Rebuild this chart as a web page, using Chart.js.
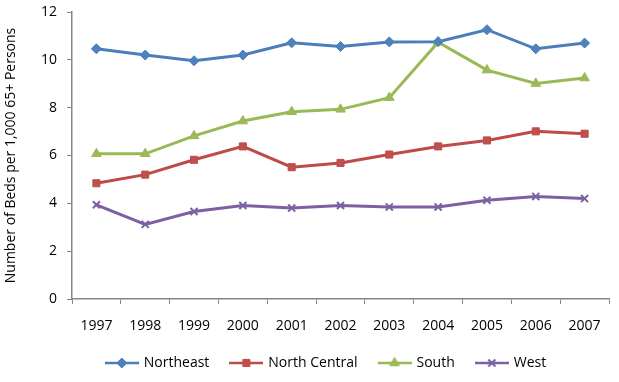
<!DOCTYPE html>
<html>
<head>
<meta charset="utf-8">
<script src="https://cdn.jsdelivr.net/npm/chart.js@4/dist/chart.umd.min.js"></script>
<style>
html,body{margin:0;padding:0;background:#fff;}
#wrap{width:619px;height:382px;position:relative;}
</style>
</head>
<body>
<div id="wrap"><canvas id="c" width="619" height="382"></canvas></div>
<script>
const years = ["1997","1998","1999","2000","2001","2002","2003","2004","2005","2006","2007"];
const northeast = [10.46, 10.2, 9.96, 10.2, 10.71, 10.56, 10.75, 10.76, 11.26, 10.46, 10.7];
const northCentral = [4.84, 5.2, 5.82, 6.38, 5.51, 5.69, 6.04, 6.38, 6.63, 7.01, 6.91];
const south = [6.07, 6.07, 6.82, 7.44, 7.83, 7.93, 8.42, 10.74, 9.57, 9.01, 9.24];
const west = [3.94, 3.12, 3.66, 3.91, 3.8, 3.91, 3.85, 3.85, 4.13, 4.29, 4.2];
const yTicks = [0, 2, 4, 6, 8, 10, 12];
const yTitle = "Number of Beds per 1,000 65+ Persons";

const FONT = "'Open Sans', 'Liberation Sans', sans-serif";

const seriesDefs = [
  {label: "Northeast", data: northeast, line: "#4A7EBB", fill: "#4F81BD", style: "rectRot", r: 5},
  {label: "North Central", data: northCentral, line: "#BE4B48", fill: "#C0504D", style: "rect", r: 5},
  {label: "South", data: south, line: "#98B954", fill: "#9BBB59", style: "triangle", r: 5.5},
  {label: "West", data: west, line: "#7D60A0", fill: "#8064A2", style: "crossRot", r: 5}
];

function legendIcon(d) {
  const cv = document.createElement('canvas');
  cv.width = 34; cv.height = 14;
  const ctx = cv.getContext('2d');
  ctx.strokeStyle = d.line; ctx.lineWidth = 2.5;
  ctx.beginPath(); ctx.moveTo(0, 7); ctx.lineTo(34, 7); ctx.stroke();
  ctx.fillStyle = d.fill; ctx.strokeStyle = d.line;
  ctx.lineWidth = d.style === 'crossRot' ? 2 : 1;
  Chart.helpers.drawPoint(ctx, {pointStyle: d.style, radius: d.r, rotation: 0, borderWidth: ctx.lineWidth}, 17, 7);
  return cv;
}

const bgPlugin = {
  id: 'bg',
  beforeDraw(chart) {
    const ctx = chart.ctx;
    ctx.save(); ctx.fillStyle = '#fff'; ctx.fillRect(0, 0, chart.width, chart.height); ctx.restore();
  },
  afterLayout(chart) {
    chart.legend.left += 22; chart.legend.right += 22;
  }
};

new Chart(document.getElementById('c'), {
  type: 'line',
  data: {
    labels: years,
    datasets: seriesDefs.map(d => ({
      label: d.label,
      data: d.data,
      borderColor: d.line,
      backgroundColor: d.fill,
      borderWidth: 3,
      pointStyle: d.style,
      pointRadius: d.r,
      pointBorderColor: d.line,
      pointBackgroundColor: d.fill,
      pointBorderWidth: d.style === 'crossRot' ? 2 : 1,
      tension: 0,
      fill: false
    }))
  },
  options: {
    responsive: false,
    animation: false,
    devicePixelRatio: 1,
    layout: {padding: {top: 12, right: 10, bottom: 2, left: 0}},
    plugins: {
      legend: {
        position: 'bottom',
        labels: {
          color: '#000',
          font: {family: FONT, size: 14},
          usePointStyle: true,
          pointStyleWidth: 30,
          padding: 22,
          generateLabels(chart) {
            return seriesDefs.map((d, i) => ({
              text: d.label,
              pointStyle: legendIcon(d),
              fillStyle: d.fill,
              strokeStyle: d.line,
              lineWidth: 0,
              hidden: false,
              datasetIndex: i,
              fontColor: '#000'
            }));
          }
        }
      },
      tooltip: {enabled: false}
    },
    scales: {
      x: {
        type: 'category',
        offset: true,
        afterFit(scale) { scale.height = 35; scale.paddingLeft = 0; scale.paddingRight = 0; },
        grid: {offset: true, drawOnChartArea: false, drawTicks: true, tickLength: 5, color: '#868686'},
        border: {color: '#868686', width: 1.5},
        ticks: {color: '#000', font: {family: FONT, size: 14}, padding: 14, maxRotation: 0}
      },
      y: {
        min: 0, max: 12,
        afterFit(scale) { scale.width = 72; scale.paddingTop = 0; scale.paddingBottom = 0; },
        afterBuildTicks(scale) { scale.ticks = yTicks.map(v => ({value: v})); },
        grid: {drawOnChartArea: false, drawTicks: true, tickLength: 5, color: '#868686'},
        border: {color: '#868686', width: 1.5},
        ticks: {color: '#000', font: {family: FONT, size: 14}, padding: 10},
        title: {display: true, text: yTitle, color: '#000', font: {family: FONT, size: 14}, padding: {top: 3, bottom: 0}}
      }
    }
  },
  plugins: [bgPlugin]
});
</script>
</body>
</html>
